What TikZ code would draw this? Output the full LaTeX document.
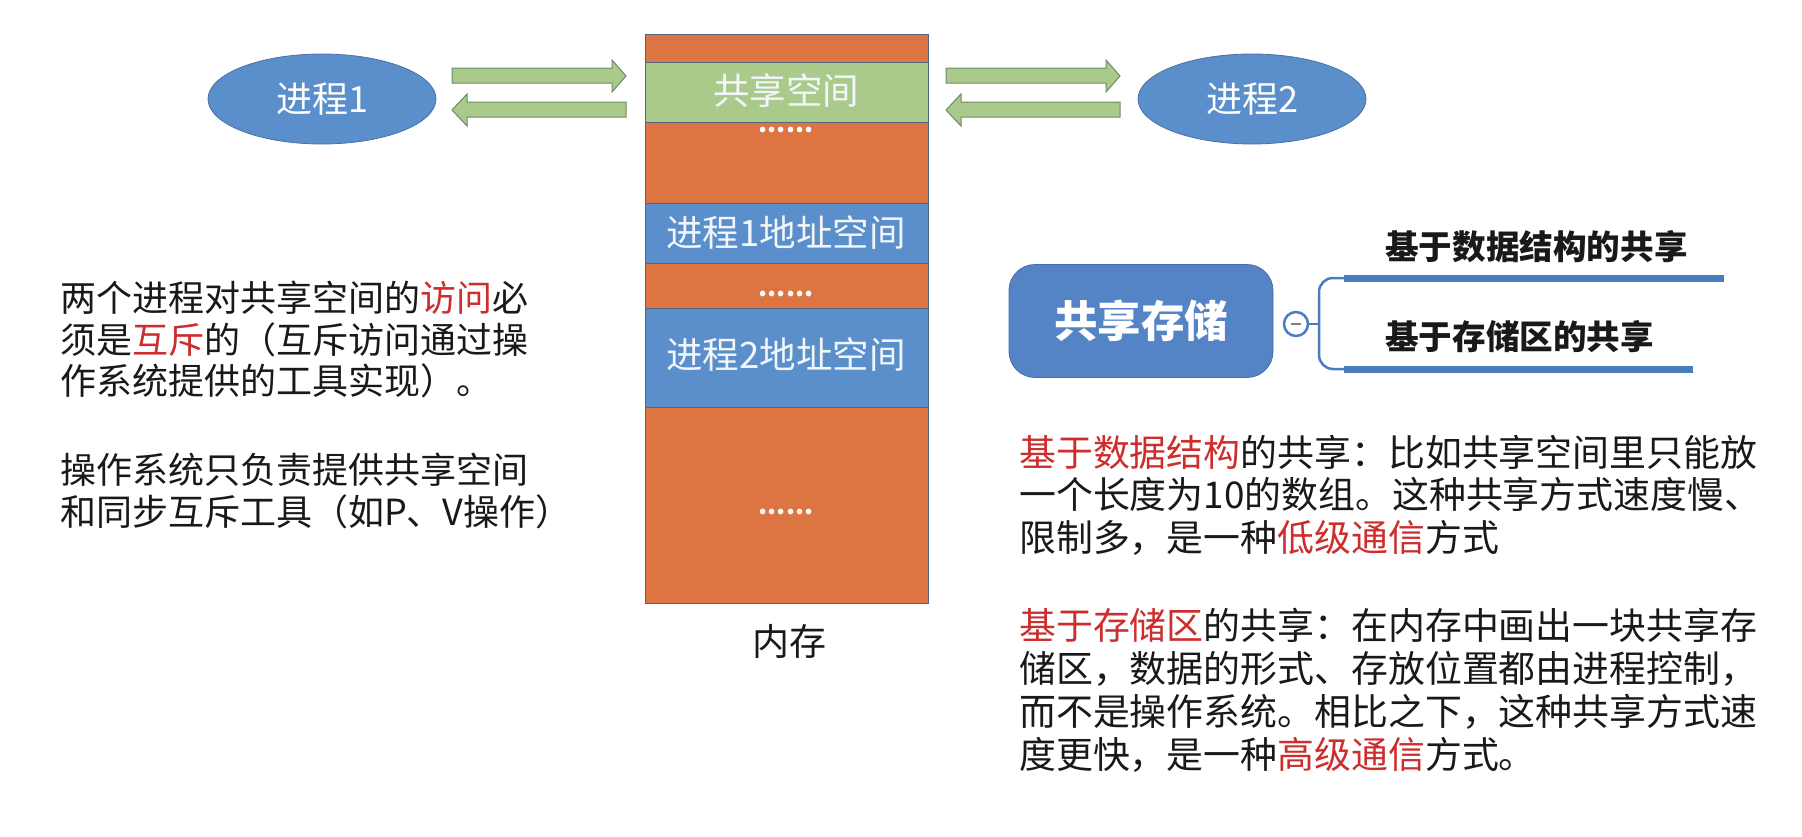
\documentclass[tikz,border=0pt]{standalone}
\usepackage{fontspec}
\setmainfont{Noto Sans CJK SC}
\usetikzlibrary{shapes.geometric}
\definecolor{morange}{RGB}{221,117,66}
\definecolor{mblue}{RGB}{91,143,204}
\definecolor{mgreen}{RGB}{169,202,138}
\definecolor{edgecol}{RGB}{85,100,130}
\definecolor{arrowedge}{RGB}{110,138,100}
\definecolor{mmblue}{RGB}{84,131,198}
\definecolor{lineblue}{RGB}{74,124,192}
\definecolor{tred}{RGB}{205,45,45}
\definecolor{tblack}{RGB}{25,25,25}
\tikzset{
  memblock/.style={draw=edgecol,line width=1pt},
  proc/.style={ellipse,fill=mblue,draw=mblue!80!black,line width=0.8pt,minimum width=228pt,minimum height=90pt,inner sep=0pt,text=white,font=\fontsize{36}{40}\selectfont},
  memtext/.style={text=white!92!mblue,font=\fontsize{36.5}{40}\selectfont,inner sep=0pt},
  dots/.style={text=white,font=\fontsize{26}{30}\selectfont\bfseries,inner sep=0pt},
  blockarrow/.style={fill=mgreen,draw=arrowedge,line width=1pt,line join=miter},
  para/.style={anchor=north west,align=left,inner sep=0pt,text=tblack},
  branch/.style={anchor=west,inner sep=0pt,text=tblack,font=\fontsize{33.6}{38}\selectfont\bfseries},
}
\begin{document}
\begin{tikzpicture}[x=1pt,y=-1pt]
\useasboundingbox[fill=white] (0,0) rectangle (1802,836);
% memory column
\draw[memblock,fill=morange] (645,34) rectangle (928,62);
\draw[memblock,fill=mgreen] (645,62) rectangle (928,122);
\draw[memblock,fill=morange] (645,122) rectangle (928,203);
\draw[memblock,fill=mblue] (645,203) rectangle (928,263);
\draw[memblock,fill=morange] (645,263) rectangle (928,308);
\draw[memblock,fill=mblue] (645,308) rectangle (928,407);
\draw[memblock,fill=morange] (645,407) rectangle (928,603);
\node[memtext] (share) at (786,91) {共享空间};
\node[memtext] (p1space) at (786,233) {进程1地址空间};
\node[memtext] (p2space) at (786,355) {进程2地址空间};
\node[dots,anchor=base] (d1) at (786,132) {......};
\node[dots,anchor=base] (d2) at (786,296) {......};
\node[dots,anchor=base] (d3) at (786,514) {......};
\node[text=tblack,font=\fontsize{37}{40}\selectfont,inner sep=0pt] (mem) at (789,641) {内存};
% processes
\node[proc] (proc1) at (322,99) {进程1};
\node[proc] (proc2) at (1252,99) {进程2};
% block arrows
\draw[blockarrow] (452,68) -- (612,68) -- (612,60) -- (626,76) -- (612,92) -- (612,83) -- (452,83) -- cycle;
\draw[blockarrow] (626,102) -- (467,102) -- (467,94) -- (452,110) -- (467,126) -- (467,117) -- (626,117) -- cycle;
\draw[blockarrow] (946,68) -- (1106,68) -- (1106,60) -- (1120,76) -- (1106,92) -- (1106,83) -- (946,83) -- cycle;
\draw[blockarrow] (1120,102) -- (961,102) -- (961,94) -- (946,110) -- (961,126) -- (961,117) -- (1120,117) -- cycle;
% left text
\node[para,font=\fontsize{36}{41.5}\selectfont] (txt1) at (60,281) {两个进程对共享空间的\textcolor{tred}{访问}必\\须是\textcolor{tred}{互斥}的（互斥访问通过操\\作系统提供的工具实现）。};
\node[para,font=\fontsize{36}{41.5}\selectfont] (txt2) at (60,453) {操作系统只负责提供共享空间\\和同步互斥工具（如P、V操作）};
% mind map
\node[draw=mmblue!85!black,line width=0.8pt,fill=mmblue,rounded corners=26pt,minimum width=264pt,minimum height=113pt,inner sep=0pt,text=white,font=\fontsize{43.5}{48}\selectfont\bfseries] (mm) at (1141,321) {共享存储};
\coordinate (jn) at (1319,324);
\coordinate (b1s) at (1344,278);
\coordinate (b2s) at (1344,369);
\coordinate (b1e) at (1724,278);
\coordinate (b2e) at (1693,369);
\draw[lineblue,line width=2.5pt,rounded corners=14pt] (b1s) -- (1319,278) -- (1319,369) -- (b2s);
\node[circle,draw=lineblue,line width=2.5pt,fill=white,minimum size=24pt,inner sep=0pt] (minus) at (1296,324) {};
\draw[lineblue,line width=2.5pt] (minus.east) -- (jn);
\draw[gray,line width=2.5pt] ([xshift=-5pt]minus.center) -- ([xshift=5pt]minus.center);
\draw[lineblue,line width=7pt] (b1s) -- (b1e);
\draw[lineblue,line width=7pt] (b2s) -- (b2e);
\node[branch] (br1) at (1385,247) {基于数据结构的共享};
\node[branch] (br2) at (1385,337) {基于存储区的共享};
% right text
\node[para,font=\fontsize{36.9}{42.5}\selectfont] (txt3) at (1019,435) {\textcolor{tred}{基于数据结构}的共享：比如共享空间里只能放\\一个长度为10的数组。这种共享方式速度慢、\\限制多，是一种\textcolor{tred}{低级通信}方式};
\node[para,font=\fontsize{36.9}{43}\selectfont] (txt4) at (1019,608) {\textcolor{tred}{基于存储区}的共享：在内存中画出一块共享存\\储区，数据的形式、存放位置都由进程控制，\\而不是操作系统。相比之下，这种共享方式速\\度更快，是一种\textcolor{tred}{高级通信}方式。};
\end{tikzpicture}
\end{document}
